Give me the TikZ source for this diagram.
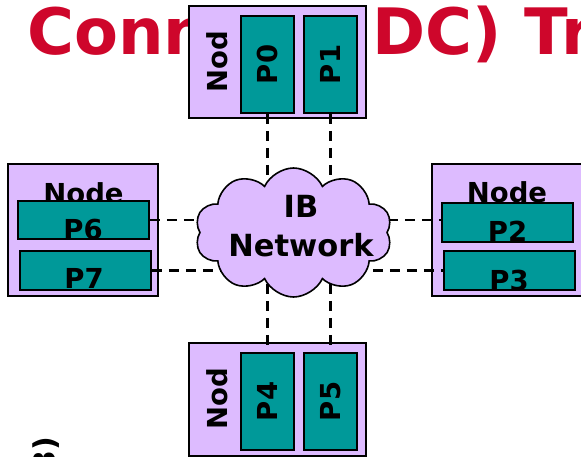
\documentclass[tikz,border=0pt]{standalone}
\usepackage{fontspec}
\setmainfont{DejaVu Sans}
\usetikzlibrary{shapes.symbols}
\definecolor{dcred}{RGB}{206,6,43}
\definecolor{lilac}{RGB}{221,187,255}
\definecolor{proccol}{RGB}{0,153,153}
\begin{document}
\begin{tikzpicture}[x=1pt,y=-1pt,
  hostbox/.style={draw,line width=1.6pt,fill=lilac,inner sep=0pt},
  vproc/.style={draw,line width=1.6pt,fill=proccol,inner sep=0pt,minimum width=53pt,minimum height=97pt},
  hproc/.style={draw,line width=1.6pt,fill=proccol,inner sep=0pt,minimum width=131pt,minimum height=38.5pt},
  lbl/.style={font=\fontsize{27.5}{32}\selectfont\bfseries,inner sep=0pt},
  link/.style={line width=2.4pt,dash pattern=on 10pt off 7pt}]
\clip (0,0) rectangle (581,457);

\node[anchor=base west,inner sep=0pt,text=dcred,font=\fontsize{64}{70}\selectfont\bfseries] (ttl) at (27,55) {Connect (DC) Transport};

\node[hostbox,minimum width=177pt,minimum height=112pt] (top) at (277.5,62) {};
\node[lbl,rotate=90] (ntop) at (217.5,62) {Nod};
\node[vproc] (p0) at (267.5,64.5) {};
\node[vproc] (p1) at (330.5,64.5) {};
\node[lbl,rotate=90] (t0) at (p0) {P0};
\node[lbl,rotate=90] (t1) at (p1) {P1};

\node[hostbox,minimum width=150pt,minimum height=132pt] (left) at (83,230) {};
\node[lbl,anchor=base] (nleft) at (83.5,203.5) {Node};
\node[hproc] (p6) at (83.5,220) {};
\node[hproc] (p7) at (85.5,270.5) {};
\node[lbl,anchor=base] (t6) at (83,240) {P6};
\node[lbl,anchor=base] (t7) at (84,288) {P7};

\node[hostbox,minimum width=150pt,minimum height=132pt] (right) at (507,230) {};
\node[lbl,anchor=base] (nright) at (507,203) {Node};
\node[hproc] (p2) at (507.5,222.5) {};
\node[hproc] (p3) at (509.5,270.5) {};
\node[lbl,anchor=base] (t2) at (507.5,242) {P2};
\node[lbl,anchor=base] (t3) at (509,290) {P3};

\node[hostbox,minimum width=177pt,minimum height=113pt] (bot) at (277.5,399.5) {};
\node[lbl,rotate=90] (nbot) at (217.5,399) {Nod};
\node[vproc] (p4) at (267.5,401.5) {};
\node[vproc] (p5) at (330.5,401.5) {};
\node[lbl,rotate=90] (t4) at (p4) {P4};
\node[lbl,rotate=90] (t5) at (p5) {P5};

\draw[link] (p0.south) -- (p4.north);
\draw[link] (p1.south) -- (p5.north);
\draw[link] (p6.east) -- (p6.east -| p2.west);
\draw[link] (p7.east) -- (p7.east -| p3.west);

\node[cloud,cloud puffs=10,cloud puff arc=130,cloud ignores aspect,draw,line width=1.6pt,fill=lilac,
  minimum width=197pt,minimum height=129pt] (net) at (293.5,232.5) {};
\node[align=center,font=\fontsize{30.5}{39}\selectfont\bfseries,inner sep=0pt] (netlbl) at (301,226.5) {IB\\Network};

\node[lbl,font=\fontsize{30}{36}\selectfont\bfseries,rotate=90,anchor=east] (num) at (46,437) {3)};
\end{tikzpicture}
\end{document}
